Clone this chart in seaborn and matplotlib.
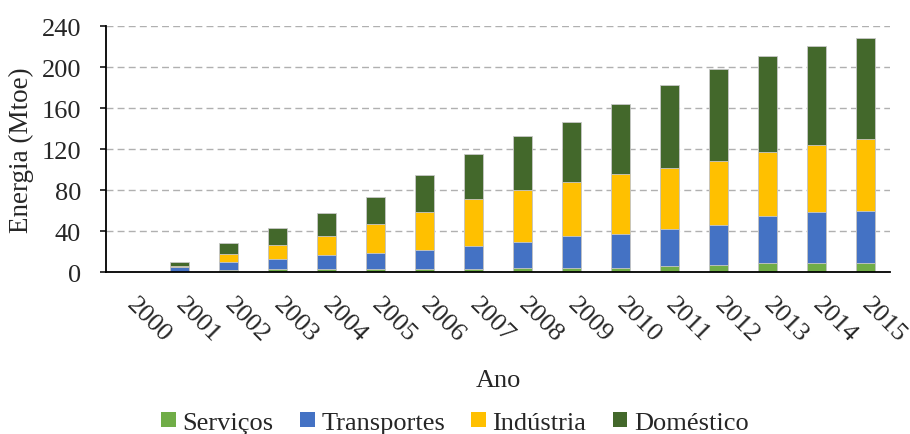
import matplotlib
matplotlib.use("Agg")
import matplotlib.pyplot as plt
from matplotlib.patches import Patch
import seaborn as sns
import pandas as pd
import numpy as np

years = [str(y) for y in range(2000, 2016)]
servicos = [0, 0.3, 1.5, 2.5, 2.5, 2.6, 2.6, 2.6, 3.9, 3.9, 4.2, 5.5, 7.2, 8.8, 8.8, 8.8]
transportes = [0, 5.0, 8.0, 10.0, 13.7, 15.6, 18.6, 22.5, 25.4, 31.3, 33.3, 36.5, 39.1, 45.6, 49.5, 50.8]
industria = [0, 1.0, 8.2, 14.0, 19.2, 28.4, 37.8, 46.2, 50.8, 53.1, 57.9, 59.6, 62.2, 62.9, 65.8, 70.0]
domestico = [0, 3.5, 10.7, 16.3, 22.2, 26.7, 36.1, 44.3, 52.8, 58.3, 68.4, 81.1, 89.9, 93.4, 96.7, 98.7]

series = ["Serviços", "Transportes", "Indústria", "Doméstico"]
colors = ["#70AD47", "#4472C4", "#FFC000", "#43682B"]

df = pd.DataFrame({"Ano": years, "Serviços": servicos, "Transportes": transportes,
                   "Indústria": industria, "Doméstico": domestico})
cum = df[series].cumsum(axis=1)

sns.set_style("white")
plt.rcParams["font.family"] = ["Liberation Serif", "DejaVu Serif"]
FS = 19

fig = plt.figure(figsize=(9.1, 4.35), dpi=100)
ax = fig.add_axes([0.1165, 0.3724, 0.8615, 0.5644])

# stacked bars drawn as overlapping cumulative totals, tallest first
for name, col in reversed(list(zip(series, colors))):
    sns.barplot(x=df["Ano"], y=cum[name], color=col, width=0.39, ax=ax,
                saturation=1, edgecolor="#c8c8c8", linewidth=0.6, zorder=3)

ax.set_ylim(0, 240)
ax.set_yticks(np.arange(0, 241, 40))
ax.set_xlim(-0.5, 15.5)
ax.yaxis.grid(True, linestyle=(0, (5, 3)), color="#b0b0b0", linewidth=1.0, zorder=0)
ax.set_axisbelow(True)
for s in ["top", "right"]:
    ax.spines[s].set_visible(False)
ax.spines["left"].set_color("black")
ax.spines["bottom"].set_color("black")
ax.spines["left"].set_linewidth(1.3)
ax.spines["bottom"].set_linewidth(1.3)
ax.spines["bottom"].set_zorder(5)
ax.tick_params(axis="y", left=True, length=4, width=1.3, labelsize=FS, pad=14)
ax.tick_params(axis="x", bottom=False, labelsize=FS, pad=17)
plt.setp(ax.get_xticklabels(), rotation=-45, ha="left", va="center",
         rotation_mode="anchor")
for lab in ax.get_xticklabels():
    x, y = lab.get_position()
    lab.set_x(x - 0.3)
ax.set_ylabel("Energia (Mtoe)", fontsize=19.5, labelpad=5)
ax.set_xlabel("Ano", fontsize=FS, labelpad=17)

handles = [Patch(facecolor=c, edgecolor="none", label=n) for n, c in zip(series, colors)]
fig.legend(handles=handles, loc="center", bbox_to_anchor=(0.5, 0.026), ncol=4,
           frameon=False, fontsize=FS, handlelength=0.55, handleheight=0.55,
           handletextpad=0.25, columnspacing=1.0, borderpad=0)

fig.savefig("out.png", dpi=100)
